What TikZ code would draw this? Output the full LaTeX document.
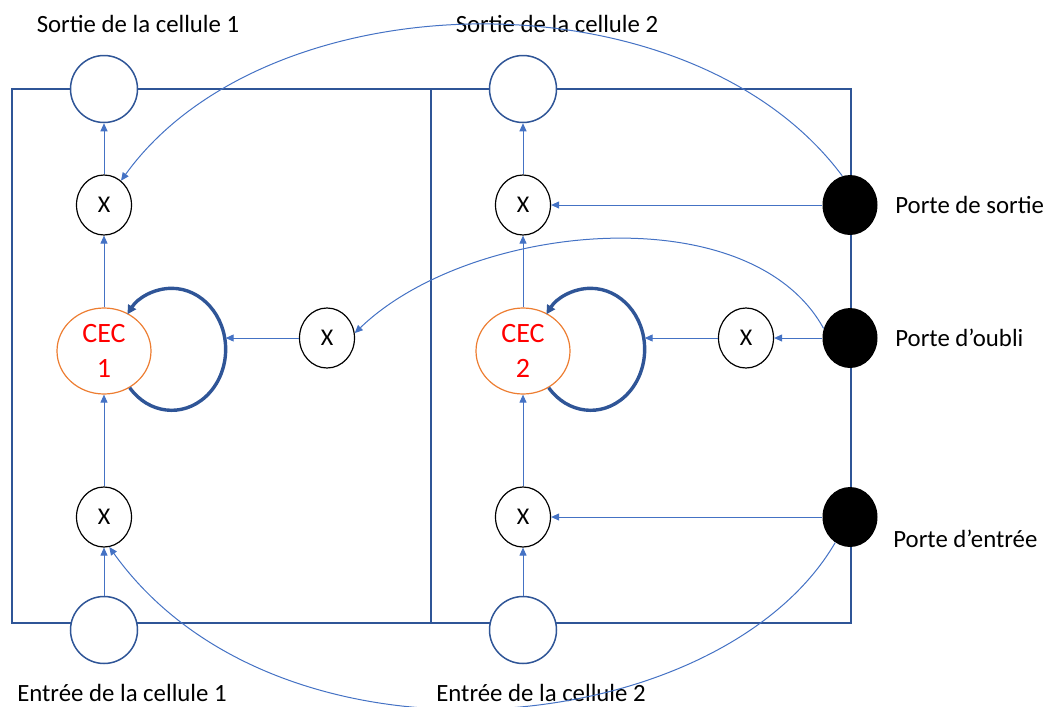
\documentclass[tikz,border=0pt]{standalone}
\usepackage{fontspec}
\setmainfont{Carlito}
\usetikzlibrary{shapes.geometric,arrows.meta}

\definecolor{cadre}{HTML}{2F5597}
\definecolor{fleche}{HTML}{4472C4}
\definecolor{orangecec}{HTML}{ED7D31}

\begin{document}
\begin{tikzpicture}[x=0.5pt, y=0.5pt,
	entsort/.style={circle, draw=cadre, line width=0.75pt, fill=white, minimum size=33.5pt, inner sep=0pt},
	mult/.style={ellipse, draw=black, line width=0.6pt, fill=white, minimum width=27.5pt, minimum height=30pt, inner sep=0pt, font=\fontsize{12}{14}\selectfont},
	cec/.style={ellipse, draw=orangecec, line width=0.6pt, fill=white, text=red, minimum width=47pt, minimum height=43pt, inner sep=0pt, align=center, font=\fontsize{14}{17.5}\selectfont},
	porte/.style={ellipse, fill=black, minimum width=27.5pt, minimum height=30pt, inner sep=0pt},
	etiq/.style={inner sep=0pt, font=\fontsize{12.4}{15}\selectfont},
	fil/.style={draw=fleche, line width=0.5pt, -{Triangle[length=4pt, width=3.5pt]}},
	boucle/.style={draw=cadre, line width=1.7pt, -{Triangle[length=4.5pt, width=4.5pt]}}
]
\useasboundingbox (0,0) rectangle (1045,-707);

% cadre des deux cellules
\draw[cadre, line width=0.75pt] (12,-89) rectangle (851,-623);
\draw[cadre, line width=0.75pt] (431,-89) -- (431,-623);

% une colonne par cellule
\foreach \cel/\xc in {1/104, 2/523} {
	\node[entsort] (out\cel) at (\xc,-89) {};
	\node[mult] (xt\cel) at (\xc,-205) {X};
	\node[cec] (cec\cel) at (\xc,-351) {CEC\\\cel};
	\node[mult] (xb\cel) at (\xc,-517) {X};
	\node[entsort] (in\cel) at (\xc,-630) {};
	\node[mult] (xm\cel) at (\xc+223,-338) {X};

	\node[etiq, anchor=base] (lsort\cel) at (\xc+34,-32) {Sortie de la cellule \cel};
	\node[etiq, anchor=base] (lent\cel) at (\xc+18,-701) {Entrée de la cellule \cel};

	\draw[fil] (in\cel) -- (xb\cel);
	\draw[fil] (xb\cel) -- (cec\cel);
	\draw[fil] (cec\cel) -- (xt\cel);
	\draw[fil] (xt\cel) -- (out\cel);

	% boucle du CEC
	\draw[boucle] (cec\cel.-55) arc[start angle=-141, end angle=0, x radius=27pt, y radius=30.5pt]
		coordinate (bd\cel) arc[start angle=0, end angle=145, x radius=27pt, y radius=30.5pt];
	\draw[fil] (xm\cel) -- (xm\cel -| bd\cel);
}

% portes
\node[porte] (ps) at (850,-205) {};
\node[porte] (po) at (850,-338) {};
\node[porte] (pe) at (850,-517) {};
\node[etiq, anchor=west] (lps) at (895,-205) {Porte de sortie};
\node[etiq, anchor=west] (lpo) at (895,-338) {Porte d’oubli};
\node[etiq, anchor=west] (lpe) at (893,-539) {Porte d’entrée};

\draw[fil] (ps) -- (xt2);
\draw[fil] (po) -- (xm2);
\draw[fil] (pe) -- (xb2);

% liaisons vers la cellule 1
\draw[fil] (ps.105) .. controls (689,30) and (268,23) .. (xt1.55);
\draw[fil] (po.160) .. controls (750,-195) and (470,-222) .. (xm1.10);
\draw[fil] (pe.240) .. controls (720,-740) and (280,-785) .. (xb1.-80);
\end{tikzpicture}
\end{document}
